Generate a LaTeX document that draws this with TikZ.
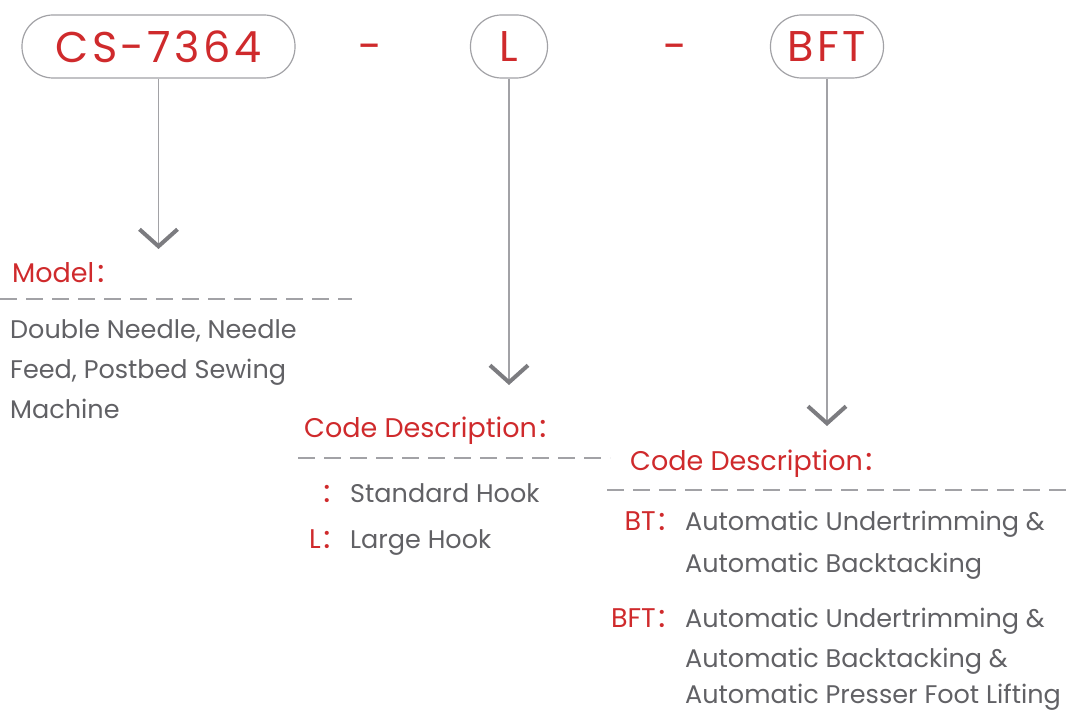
\documentclass[tikz,border=0pt]{standalone}
\usepackage{fontspec}
\setmainfont{Poppins}
\newfontfamily\cjk{Noto Sans CJK SC}
\newfontfamily\boxfont[LetterSpace=8]{Poppins}
\usetikzlibrary{arrows.meta}
\definecolor{codered}{HTML}{CF2A2C}
\definecolor{textgray}{HTML}{616165}
\definecolor{linegray}{HTML}{A2A2A6}
\definecolor{tipgray}{HTML}{7C7C80}
\newcommand{\fwcolon}{{\cjk ：}}
\begin{document}
\begin{tikzpicture}[x=1pt,y=-1pt,
    codebox/.style={draw=linegray, line width=1.2, rounded corners=31pt,
      minimum height=63, inner sep=0, text=codered,
      font=\boxfont\fontsize{43}{43}\selectfont},
    joiner/.style={anchor=base, inner sep=0, text=codered,
      font=\fontsize{43}{43}\selectfont},
    link/.style={linegray, line width=1.8,
      -{Straight Barb[length=17pt,width=38pt,line width=4pt,color=tipgray]}},
    head/.style={anchor=base west, inner sep=0, text=codered,
      font=\fontsize{27}{27}\selectfont},
    tag/.style={head, anchor=base east},
    body/.style={anchor=base west, inner sep=0, text=textgray,
      font=\fontsize{25.5}{25.5}\selectfont},
    rule/.style={draw=linegray, line width=2.5, dash pattern=on 17pt off 9pt}]
  \useasboundingbox (0,0) rectangle (1068,711);
  % code boxes
  \node[codebox, minimum width=273] (cs) at (158.5,46.5) {CS-7364};
  \node[joiner] (dashA) at (370,62) {-};
  \node[codebox, minimum width=77] (l) at (509,46.5) {L};
  \node[joiner] (dashB) at (675,62) {-};
  \node[codebox, minimum width=113] (bft) at (827,46.5) {BFT};
  % arrow ends
  \coordinate (csTip) at (158.5,249);
  \coordinate (lTip) at (509,385);
  \coordinate (bftTip) at (827,426);
  \draw[link] (cs) -- (csTip);
  \draw[link] (l) -- (lTip);
  \draw[link] (bft) -- (bftTip);
  % model
  \node[head] (modelHd) at (12,283) {Model\fwcolon};
  \draw[rule] (0,299) -- (352,299);
  \node[body] (model1) at (10,338) {Double Needle, Needle};
  \node[body] (model2) at (10,378) {Feed, Postbed Sewing};
  \node[body] (model3) at (10,418) {Machine};
  % hook
  \node[head] (hookHd) at (304,437) {Code Description\fwcolon};
  \draw[rule] (298,458) -- (610,458);
  \node[tag] (hookStd) at (348,502) {\fwcolon};
  \node[body] (hookStdTx) at (350,502) {Standard Hook};
  \node[tag] (hookL) at (348,548) {L\fwcolon};
  \node[body] (hookLTx) at (350,548) {Large Hook};
  % function
  \node[head] (funcHd) at (630,470) {Code Description\fwcolon};
  \draw[rule] (607,490) -- (1068,490);
  \node[tag] (funcBT) at (683,530) {BT\fwcolon};
  \node[body] (funcBT1) at (685,530) {Automatic Undertrimming \&};
  \node[body] (funcBT2) at (685,572) {Automatic Backtacking};
  \node[tag] (funcBFT) at (683,627) {BFT\fwcolon};
  \node[body] (funcBFT1) at (685,627) {Automatic Undertrimming \&};
  \node[body] (funcBFT2) at (685,667) {Automatic Backtacking \&};
  \node[body] (funcBFT3) at (685,703) {Automatic Presser Foot Lifting};
\end{tikzpicture}
\end{document}
